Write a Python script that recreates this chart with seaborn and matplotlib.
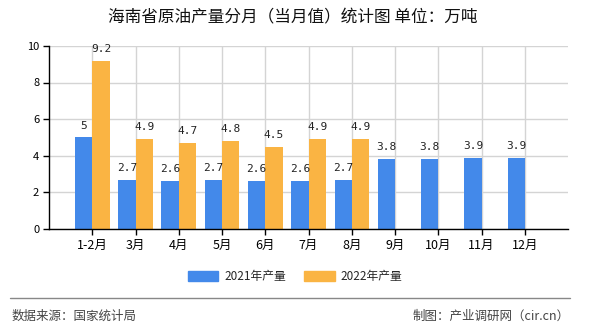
import matplotlib
matplotlib.use("Agg")
import matplotlib.pyplot as plt
import matplotlib.patches as mpatches
import seaborn as sns
import pandas as pd

months = ["1-2月", "3月", "4月", "5月", "6月", "7月", "8月", "9月", "10月", "11月", "12月"]
output_2021 = [5, 2.7, 2.6, 2.7, 2.6, 2.6, 2.7, 3.8, 3.8, 3.9, 3.9]
output_2022 = [9.2, 4.9, 4.7, 4.8, 4.5, 4.9, 4.9]
series_names = ["2021年产量", "2022年产量"]
colors = ["#4389EA", "#FAB443"]
y_ticks = [0, 2, 4, 6, 8, 10]

sns.set_theme(style="white")
plt.rcParams["font.family"] = ["Noto Sans CJK SC", "DejaVu Sans"]

rows = []
for m, v in zip(months, output_2021):
    rows.append({"月份": m, "系列": series_names[0], "产量": v})
for m, v in zip(months, output_2022):
    rows.append({"月份": m, "系列": series_names[1], "产量": v})
df = pd.DataFrame(rows)

fig = plt.figure(figsize=(5.9, 3.3), dpi=100)
ax = fig.add_axes([0.083, 0.306, 0.88, 0.555])

sns.barplot(data=df, x="月份", y="产量", hue="系列", order=months,
            hue_order=series_names, palette=colors, width=0.8,
            saturation=1, ax=ax, legend=False, errorbar=None,
            linewidth=0, edgecolor="none")

for cont in ax.containers:
    ax.bar_label(cont, fmt="%g", padding=5, fontsize=8,
                 family=["DejaVu Sans Mono"], color="#222222")

ax.set_xlim(-1, 11)
ax.set_ylim(0, 10)
ax.set_yticks(y_ticks)
ax.set_xlabel("")
ax.set_ylabel("")
ax.set_axisbelow(True)
ax.grid(True, color="#d4d4d4", linewidth=1)
for s in ["top", "right"]:
    ax.spines[s].set_visible(False)
for s in ["left", "bottom"]:
    ax.spines[s].set_color("#000000")
    ax.spines[s].set_linewidth(1)
ax.tick_params(axis="both", which="both", direction="out", length=4,
               width=1, color="#000000", labelsize=8, labelcolor="#000000",
               left=True, bottom=True, pad=3)
ax.tick_params(axis="x", labelsize=9)

fig.text(0.497, 0.945, "海南省原油产量分月（当月值）统计图 单位：万吨",
         ha="center", va="center", fontsize=12, color="#111111")

handles = [mpatches.Patch(color=c, label=n) for c, n in zip(colors, series_names)]
fig.legend(handles=handles, loc="center", bbox_to_anchor=(0.5, 0.162), ncol=2,
           frameon=False, fontsize=8.5, handlelength=2.6, handleheight=0.9,
           columnspacing=1.5, handletextpad=0.5)

fig.add_artist(plt.Line2D([0.017, 0.966], [0.097, 0.097], color="#888888",
                          linewidth=1, transform=fig.transFigure))
fig.text(0.02, 0.042, "数据来源：国家统计局", ha="left", va="center",
         fontsize=9, color="#444444")
fig.text(0.966, 0.042, "制图：产业调研网（cir.cn）", ha="right", va="center",
         fontsize=9, color="#444444")

fig.savefig("out.png", dpi=100)
